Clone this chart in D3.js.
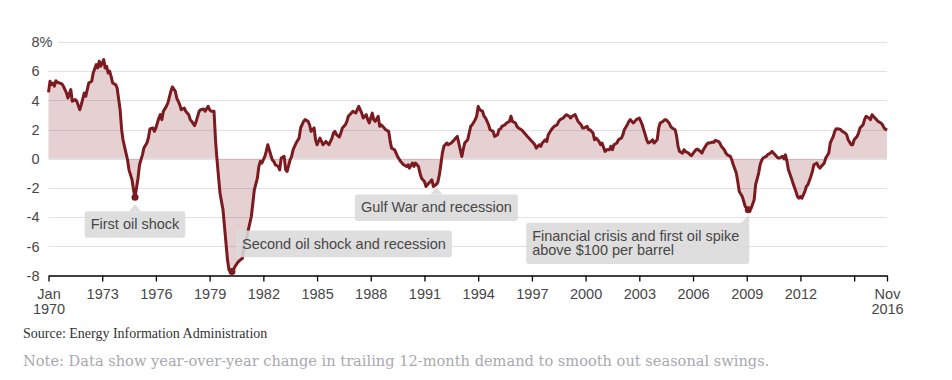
<!DOCTYPE html>
<html>
<head>
<meta charset="utf-8">
<title>Oil demand, year-over-year change</title>
<script src="https://cdn.jsdelivr.net/npm/d3@7"></script>
<style>
  body { margin: 0; background: #fff; }
  svg text { font-family: "Liberation Sans", Arial, sans-serif; }
  .lbl { font-size: 14.5px; fill: #474747; }
  .source { font-family: "Liberation Serif", serif; font-size: 14px; fill: #333; }
  .footnote { font-family: "DejaVu Serif", serif; font-size: 14.6px; fill: #a9a9ad; }
</style>
</head>
<body>
<svg id="chart" width="952" height="380"></svg>
<script>
// x = months counted from Jan 1970, y = % change in trailing 12-month demand
const monthsSince1970 = [
  0,1,2,3,4,5,6,9,10,12,13,15,16,18,19,21,22,24,25,27,29,30,32,33,34,35,37,38,39,40,41,42,43,45,46,48,49,50,52,53,54,56,57,58,59,60,61,63,64,66,67,68,70,71,72,74,75,76,77,79,80,82,83,85,86,87,88,89,91,92,94,95,96,98,99,
  101,102,104,105,107,108,109,111,112,113,114,115,117,118,119,120,121,123,124,125,127,128,130,131,133,134,136,137,138,140,141,142,143,145,146,147,148,150,151,152,154,155,156,158,159,160,162,163,164,166,168,169,171,172,174,175,176,178,179,180,182,183,184,186,188,190,191,192,193,195,196,197,199,
  200,201,203,204,206,207,208,210,211,213,214,215,217,218,219,221,222,223,225,226,228,229,230,232,233,234,236,237,238,240,241,242,244,245,246,248,249,250,252,253,254,256,257,258,260,261,262,263,264,265,267,268,270,271,273,274,275,277,278,279,281,283,284,286,287,288,289,291,292,293,294,295,296,298,299,
  301,302,303,304,306,307,309,310,311,313,314,315,317,318,319,321,322,323,325,326,327,329,330,331,333,334,335,337,338,339,341,342,343,345,346,347,349,350,351,353,354,355,357,358,359,361,362,363,365,366,367,369,370,371,373,374,376,377,378,379,381,382,384,385,386,388,389,390,392,393,394,396,397,398,
  400,401,402,404,405,406,408,409,410,412,413,414,416,417,418,420,421,422,423,425,426,427,429,430,431,433,434,435,437,438,439,441,442,443,445,446,447,449,450,451,453,454,455,457,458,459,461,462,463,465,466,467,469,470,471,473,474,476,477,478,479,481,482,484,485,486,488,489,490,492,493,494,495,496,498,499,
  501,502,503,504,505,507,508,509,511,512,513,515,516,517,519,520,521,523,524,526,527,528,530,531,532,534,535,536,538,539,540,542,543,544,546,547,548,550,551,552,554,555,556,558,559,560,562
];
const pctChange = [
  4.55,5.31,5.08,5.19,4.97,5.35,5.24,5.13,4.97,4.51,4.16,4.74,3.94,4.05,3.94,3.36,3.71,4.51,4.28,5.19,5.31,5.88,6.45,6.22,6.68,6.34,6.80,6.22,6.34,5.88,6.00,5.65,5.19,5.08,4.85,3.36,1.99,1.30,0.39,-0.07,-0.76,-1.44,-2.13,-2.63,-2.01,-1.33,-0.41,0.27,0.73,1.08,1.42,2.04,2.11,1.88,2.11,2.79,3.02,2.68,3.25,3.59,3.82,4.62,4.92,4.62,4.16,3.94,3.71,3.36,3.48,3.25,3.02,2.68,2.56,2.27,2.56,
  3.25,3.36,3.41,3.25,3.59,3.36,3.25,3.25,1.30,-0.07,-1.21,-2.36,-3.50,-4.65,-5.79,-6.94,-7.62,-7.73,-7.62,-7.39,-7.09,-6.98,-6.82,-6.02,-5.33,-4.87,-3.96,-3.04,-2.13,-1.33,-0.53,-0.18,-0.30,0.16,0.50,0.96,0.62,-0.07,-0.18,-0.41,-0.53,-0.76,0.05,0.16,-0.76,-0.87,-0.07,0.16,0.62,1.08,1.42,2.11,2.56,2.68,2.56,2.33,1.88,2.11,1.30,0.96,1.42,1.19,0.96,1.19,0.96,1.42,1.76,1.88,1.65,1.49,1.76,2.11,2.33,
  2.56,2.91,3.13,3.25,3.13,3.36,3.59,3.13,2.79,3.02,2.68,2.45,3.13,2.68,2.56,2.91,2.22,2.33,2.11,1.99,1.88,1.19,0.73,0.62,0.39,0.16,-0.18,-0.30,-0.41,-0.53,-0.41,-0.64,-0.30,-0.53,-0.30,-0.53,-0.98,-1.33,-1.56,-1.90,-1.78,-1.56,-1.44,-1.90,-1.75,-1.60,-1.10,-0.41,0.39,0.85,1.08,0.96,1.08,1.19,1.42,1.53,1.08,0.16,0.62,1.08,1.30,2.22,2.33,2.68,2.91,3.59,3.36,3.25,2.91,2.79,2.56,2.33,1.99,1.88,1.53,
  1.65,1.99,2.04,2.22,2.33,2.45,2.56,2.91,2.56,2.45,2.22,2.11,1.99,1.88,1.76,1.53,1.42,1.30,1.08,0.96,0.73,0.96,0.85,1.08,1.30,1.19,1.65,1.99,2.11,2.22,2.33,2.56,2.68,2.79,2.91,3.02,2.91,2.79,2.91,3.02,2.79,2.56,2.33,2.11,2.11,2.22,1.99,1.99,1.76,1.30,1.42,1.19,0.96,1.08,0.50,0.62,0.62,0.85,0.62,0.96,1.08,1.30,1.42,1.65,1.99,2.33,2.56,2.68,2.45,2.56,2.68,2.79,2.56,2.33,
  1.65,1.30,1.08,1.19,1.30,1.08,1.30,2.11,2.45,2.56,2.68,2.68,2.45,2.22,2.11,1.99,1.53,0.85,0.50,0.39,0.62,0.50,0.39,0.27,0.21,0.50,0.62,0.66,0.50,0.39,0.62,0.96,1.08,1.08,1.14,1.12,1.26,1.19,1.08,0.85,0.62,0.39,0.27,0.16,-0.07,-0.41,-0.98,-1.56,-2.24,-2.59,-2.93,-3.27,-3.50,-3.46,-3.39,-2.81,-1.78,-0.98,-0.41,-0.11,0.05,0.16,0.27,0.39,0.50,0.39,0.16,0.05,0.05,0.16,-0.02,0.27,-0.18,-0.76,-1.33,-1.67,
  -2.24,-2.59,-2.70,-2.59,-2.70,-2.24,-1.90,-1.78,-1.21,-0.87,-0.41,-0.30,-0.53,-0.64,-0.41,-0.30,0.05,0.39,1.08,1.53,1.88,2.06,2.04,1.99,1.88,1.76,1.65,1.30,0.96,0.96,1.30,1.53,1.76,2.11,2.33,2.68,2.91,2.79,2.68,3.02,2.79,2.68,2.56,2.45,2.33,2.11,1.95
];

const yTicks = [-8, -6, -4, -2, 0, 2, 4, 6, 8];
const xTickYears = [1973, 1976, 1979, 1982, 1985, 1988, 1991, 1994, 1997, 2000, 2003, 2006, 2009, 2012, 2015];

const noteText = [
  ["First oil shock"],
  ["Second oil shock and recession"],
  ["Gulf War and recession"],
  ["Financial crisis and first oil spike", "above $100 per barrel"]
];
const noteMonth = [58, 123, 260, 469];
const noteValue = [-2.63, -7.73, -1.9, -3.5];

const sourceText = "Source: Energy Information Administration";
const footText = "Note: Data show year-over-year change in trailing 12-month demand to smooth out seasonal swings.";

const svg = d3.select("#chart");
const monthDate = m => new Date(1970, m, 1);
const data = monthsSince1970.map((m, i) => ({ date: monthDate(m), v: pctChange[i] }));

const x = d3.scaleTime()
  .domain([monthDate(0), monthDate(562)])
  .range([48.5, 887]);
const y = d3.scaleLinear()
  .domain([-8, 8])
  .range([275.5, 42]);

// gridlines
svg.append("g").selectAll("line")
  .data(yTicks.filter(d => d > -8))
  .join("line")
  .attr("x1", d => d == 8 ? 58 : x.range()[0])
  .attr("x2", x.range()[1])
  .attr("y1", d => Math.round(y(d)) + 0.5)
  .attr("y2", d => Math.round(y(d)) + 0.5)
  .attr("stroke", "#e0e0e6")
  .attr("stroke-width", 1);

// y labels
svg.append("g").selectAll("text")
  .data(yTicks)
  .join("text")
  .attr("class", "lbl")
  .attr("x", 39.5)
  .attr("y", d => y(d))
  .attr("dy", "0.36em")
  .attr("text-anchor", "end")
  .text(d => d);
svg.append("text")
  .attr("class", "lbl")
  .attr("x", 39.5)
  .attr("y", y(8))
  .attr("dy", "0.36em")
  .text("%");

// area + line
const area = d3.area()
  .x(d => x(d.date))
  .y0(y(0))
  .y1(d => y(d.v));
svg.append("path")
  .datum(data)
  .attr("d", area)
  .attr("fill", "#7b1a1f")
  .attr("fill-opacity", 0.2);

const line = d3.line()
  .x(d => x(d.date))
  .y(d => y(d.v));
svg.append("path")
  .datum(data)
  .attr("d", line)
  .attr("fill", "none")
  .attr("stroke", "#7b1a1f")
  .attr("stroke-width", 3)
  .attr("stroke-linejoin", "round");

// dots on the lows that have a note
svg.append("g").selectAll("circle")
  .data([0, 1, 3])
  .join("circle")
  .attr("cx", i => x(monthDate(noteMonth[i])))
  .attr("cy", i => y(noteValue[i]))
  .attr("r", 3.5)
  .attr("fill", "#7b1a1f");

// notes
const noteLayout = [
  { align: "center", dx: 0, dy: 14, tip: 7, padR: 6 },
  { align: "left", dx: 4, dy: -41, padR: 6 },
  { align: "center", dx: 0, dy: 8, tip: 0.5, padR: 6 },
  { align: "right", dx: 1, dy: 13, tip: 5, corner: true, padR: 10 }
];
noteText.forEach((lines, i) => {
  const lay = noteLayout[i];
  const ax = x(monthDate(noteMonth[i]));
  const ay = y(noteValue[i]);
  const g = svg.append("g");
  const box = g.append("rect");
  const ptr = g.append("path");
  const texts = lines.map(t => g.append("text").attr("class", "lbl").text(t));
  const w = d3.max(texts, t => t.node().getComputedTextLength());
  const bw = w + 6 + lay.padR;
  const bh = 12 + lines.length * 14.6;
  let left = ax + lay.dx;
  if (lay.align == "center") left = ax - bw / 2;
  if (lay.align == "right") left = ax + lay.dx - bw;
  const top = ay + lay.dy;
  box.attr("x", left).attr("y", top)
    .attr("width", bw).attr("height", bh)
    .attr("rx", 3)
    .attr("fill", "#d9d9d9")
    .attr("fill-opacity", 0.88);
  if (lay.tip != null) {
    let p;
    if (lay.corner) {
      const r = left + bw;
      p = `M${r},${ay + lay.tip}L${r},${top + 1}L${r - 9},${top + 1}Z`;
    } else {
      p = `M${ax - 6},${top}L${ax},${ay + lay.tip}L${ax + 6},${top}Z`;
    }
    ptr.attr("d", p).attr("fill", "#d9d9d9").attr("fill-opacity", 0.88);
  }
  texts.forEach((t, k) => t.attr("x", left + 6).attr("y", top + 18 + k * 14.5));
});

// x axis
const xTicks = [monthDate(0)].concat(xTickYears.map(yr => new Date(yr, 0, 1)), [monthDate(562)]);
const xAxis = d3.axisBottom(x)
  .tickValues(xTicks)
  .tickSize(6)
  .tickSizeOuter(0)
  .tickPadding(7)
  .tickFormat(d => {
    if (+d == +monthDate(0)) return "Jan|1970";
    if (+d == +monthDate(562)) return "Nov|2016";
    if (d.getFullYear() == 2015) return "";
    return d.getFullYear();
  });
const gx = svg.append("g")
  .attr("transform", `translate(0,${y(-8)})`)
  .call(xAxis);
gx.select(".domain").attr("stroke", "#000").attr("stroke-width", 1.3);
gx.selectAll(".tick line").attr("stroke", "#000").attr("stroke-width", 1.3);
gx.selectAll(".tick text")
  .attr("class", "lbl")
  .attr("fill", null)
  .each(function () {
    const t = d3.select(this);
    const parts = t.text().split("|");
    if (parts.length > 1) {
      t.text(null);
      parts.forEach((s, k) => t.append("tspan").attr("x", 0).attr("dy", k == 0 ? "0.71em" : "1.04em").text(s));
      t.attr("dy", null);
    }
  });
gx.attr("font-family", null).attr("font-size", null);

// source + note
svg.append("text").attr("class", "source").attr("x", 23).attr("y", 337.5).text(sourceText);
svg.append("text").attr("class", "footnote").attr("x", 23).attr("y", 366).text(footText);
</script>
</body>
</html>
